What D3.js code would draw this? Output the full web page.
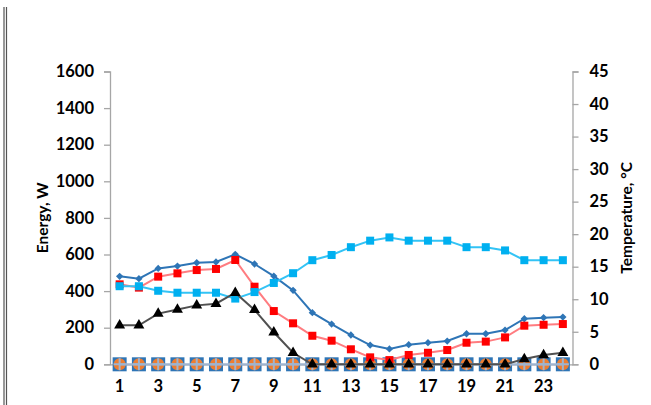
<!DOCTYPE html>
<html><head><meta charset="utf-8">
<script src="https://cdn.jsdelivr.net/npm/d3@7"></script>
<style>
html,body{margin:0;padding:0;background:#fff;}
svg{display:block;}
text{font-family:Lato,"Open Sans",sans-serif;font-weight:bold;fill:#000;}
</style></head>
<body>
<script>
const hours = d3.range(1, 25);
const xTickLabels = [1,3,5,7,9,11,13,15,17,19,21,23];
const energyTicks = [0,200,400,600,800,1000,1200,1400,1600];
const tempTicks = [0,5,10,15,20,25,30,35,40,45];
const demand = [481,468,524,537,555,559,601,548,482,404,282,220,160,105,84,107,118,127,167,167,187,249,255,258];
const redSeries = [437,419,479,497,515,521,570,424,291,224,156,129,82,38,23,51,63,78,118,124,147,211,216,220];
const temperature = [12.0,12.0,11.3,11.0,11.0,11.0,10.1,11.1,12.5,14.0,16.0,16.8,18.0,19.0,19.5,19.0,19.0,19.0,18.0,18.0,17.5,16.0,16.0,16.0];
const blackSeries = [213,213,277,299,322,331,391,297,175,63,0,0,0,0,0,0,0,0,0,0,0,29,51,63];
const zeroSquares = [0,0,0,0,0,0,0,0,0,0,0,0,0,0,0,0,0,0,0,0,0,0,0,0];
const zeroCircles = [0,0,0,0,0,0,0,0,0,0,0,0,0,0,0,0,0,0,0,0,0,0,0,0];
const zeroPlus = [0,0,0,0,0,0,0,0,0,0,0,0,0,0,0,0,0,0,0,0,0,0,0,0];

const W = 651, H = 405;
const L = 110, R = 572.5, T = 71.5, B = 364.3;
const svg = d3.select("body").append("svg").attr("width", W).attr("height", H);

// left frame double line
svg.append("line").attr("x1",4).attr("x2",4).attr("y1",7).attr("y2",H).attr("stroke","#555").attr("stroke-width",1.2);
svg.append("line").attr("x1",6.5).attr("x2",6.5).attr("y1",7).attr("y2",H).attr("stroke","#555").attr("stroke-width",1.2);

const x = d3.scaleBand().domain(hours).range([L, R]).padding(0);
const cx = d => x(d) + x.bandwidth()/2;
const y = d3.scaleLinear().domain([0,1600]).range([B, T]);
const y2 = d3.scaleLinear().domain([0,45]).range([B, T]);

// axes
const axL = svg.append("g").attr("transform",`translate(${L},0)`)
  .call(d3.axisLeft(y).tickValues(energyTicks).tickFormat(d3.format("d")).tickSize(6).tickPadding(10));
const axR = svg.append("g").attr("transform",`translate(${R},0)`)
  .call(d3.axisRight(y2).tickValues(tempTicks).tickFormat(d3.format("d")).tickSize(6).tickPadding(11));
[axL, axR].forEach(g => {
  g.select(".domain").attr("stroke","#a6a6a6").attr("stroke-width",1.3);
  g.selectAll(".tick line").attr("stroke","#a6a6a6").attr("stroke-width",1.3);
  g.selectAll(".tick text").style("font-size","16.5px").attr("fill","#000");
});
const axB = svg.append("g").attr("transform",`translate(0,${B})`)
  .call(d3.axisBottom(x).tickValues(xTickLabels).tickSize(0).tickPadding(16));
axB.select(".domain").attr("stroke","#a6a6a6").attr("stroke-width",1.3);
axB.selectAll(".tick text").style("font-size","16.5px").attr("fill","#000");

// axis titles
svg.append("text").attr("transform",`translate(48,${(T+B)/2}) rotate(-90)`)
  .attr("text-anchor","middle").style("font-size","15.5px").text("Energy, W");
svg.append("text").attr("transform",`translate(632,${(T+B)/2}) rotate(-90)`)
  .attr("text-anchor","middle").style("font-size","15.5px").text("Temperature, °C");

const lineGen = (ys, vals) => d3.line().x((d,i)=>cx(hours[i])).y((d,i)=>ys(vals[i]))(vals);

// bottom zero series
svg.append("g").selectAll("rect").data(zeroSquares).join("rect")
  .attr("x",(d,i)=>cx(hours[i])-7).attr("y",(d)=>y(d)-7).attr("width",14).attr("height",14)
  .attr("fill","#2e75b6");
svg.append("g").selectAll("circle").data(zeroCircles).join("circle")
  .attr("cx",(d,i)=>cx(hours[i])).attr("cy",d=>y(d)).attr("r",6).attr("fill","#ed7d31");
svg.append("path").attr("d",lineGen(y, zeroPlus)).attr("fill","none").attr("stroke","#9fb4cf").attr("stroke-width",2.2);
svg.append("g").selectAll("path").data(zeroPlus).join("path")
  .attr("d",(d,i)=>{const px=cx(hours[i]), py=y(d); return `M${px-6},${py}H${px+6}M${px},${py-6}V${py+6}`;})
  .attr("stroke","#9fb4cf").attr("stroke-width",2);

// demand diamonds
svg.append("path").attr("d",lineGen(y, demand)).attr("fill","none").attr("stroke","#2e75b6").attr("stroke-width",2);
svg.append("g").selectAll("path").data(demand).join("path")
  .attr("d",d3.symbol().type(d3.symbolDiamond2).size(34))
  .attr("transform",(d,i)=>`translate(${cx(hours[i])},${y(d)})`).attr("fill","#2e75b6");

// red squares
svg.append("path").attr("d",lineGen(y, redSeries)).attr("fill","none").attr("stroke","#ff7c80").attr("stroke-width",2);
svg.append("g").selectAll("rect").data(redSeries).join("rect")
  .attr("x",(d,i)=>cx(hours[i])-4).attr("y",d=>y(d)-4).attr("width",8).attr("height",8).attr("fill","#ff0000");

// temperature light blue
svg.append("path").attr("d",lineGen(y2, temperature)).attr("fill","none").attr("stroke","#33c3f5").attr("stroke-width",2);
svg.append("g").selectAll("rect").data(temperature).join("rect")
  .attr("x",(d,i)=>cx(hours[i])-4).attr("y",d=>y2(d)-4).attr("width",8).attr("height",8).attr("fill","#00b0f0");

// black triangles
svg.append("path").attr("d",lineGen(y, blackSeries)).attr("fill","none").attr("stroke","#505050").attr("stroke-width",2);
svg.append("g").selectAll("path").data(blackSeries).join("path")
  .attr("d",d3.symbol().type(d3.symbolTriangle).size(52))
  .attr("transform",(d,i)=>`translate(${cx(hours[i])},${y(d)})`).attr("fill","#000");
</script>
</body></html>
